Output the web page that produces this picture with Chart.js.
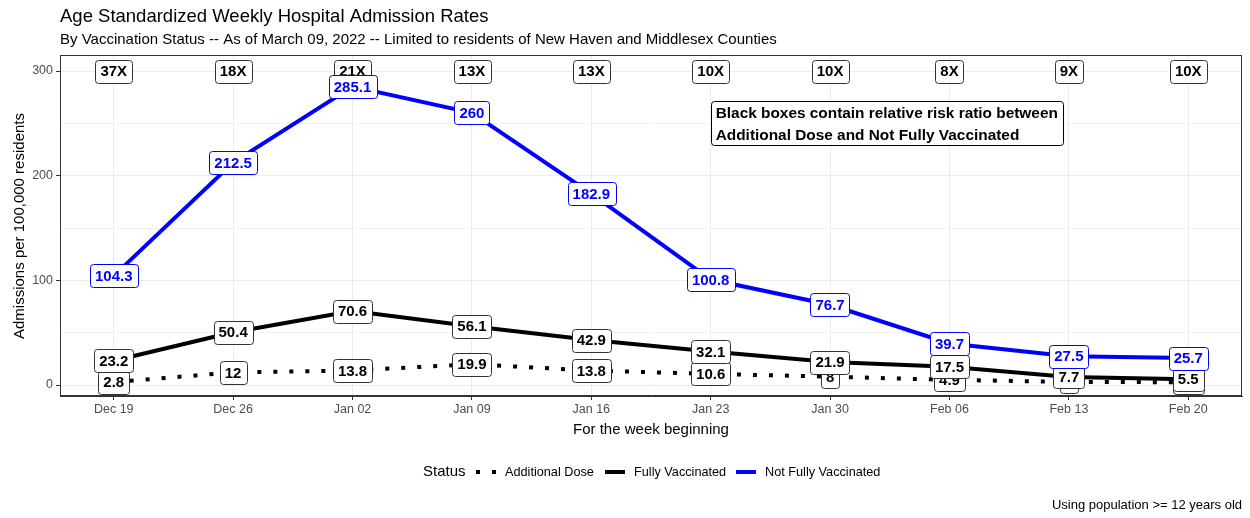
<!DOCTYPE html>
<html>
<head>
<meta charset="utf-8">
<script src="https://cdn.jsdelivr.net/npm/chart.js@4.4.1/dist/chart.umd.min.js"></script>
<style>
    body { margin: 0; background: #fff; }
    #wrap { width: 1250px; height: 518px; position: relative; }
</style>
</head>
<body>
<div id="wrap"><canvas id="admChart"></canvas></div>
<script>
var weeks = ["Dec 19", "Dec 26", "Jan 02", "Jan 09", "Jan 16", "Jan 23", "Jan 30", "Feb 06", "Feb 13", "Feb 20"];
var notFullyVaccinated = [104.3, 212.5, 285.1, 260, 182.9, 100.8, 76.7, 39.7, 27.5, 25.7];
var fullyVaccinated = [23.2, 50.4, 70.6, 56.1, 42.9, 32.1, 21.9, 17.5, 7.7, 5.5];
var additionalDose = [2.8, 12, 13.8, 19.9, 13.8, 10.6, 8, 4.9, 3.0, 2.6];
var riskRatios = ["37X", "18X", "21X", "13X", "13X", "10X", "10X", "8X", "9X", "10X"];
var ratioRow = 300;
var yTicks = [0, 50, 100, 150, 200, 250, 300];

var FONT = "'Liberation Sans', Arial, sans-serif";

function toPoints(values) {
    return values.map(function (v, i) { return { x: i, y: v }; });
}

function labelBox(ctx, text, x, y, textColor, borderColor) {
    ctx.font = "bold 15px " + FONT;
    var w = ctx.measureText(text).width + 10;
    var h = 23;
    ctx.beginPath();
    ctx.roundRect(Math.round(x - w / 2) + 0.5, Math.round(y - h / 2) + 0.5, Math.round(w), h, 3);
    ctx.fillStyle = "#fff";
    ctx.fill();
    ctx.lineWidth = 1;
    ctx.strokeStyle = borderColor;
    ctx.stroke();
    ctx.fillStyle = textColor;
    ctx.textAlign = "center";
    ctx.textBaseline = "middle";
    ctx.fillText(text, x, y + 1);
}

var decorPlugin = {
    id: 'decor',
    afterDatasetsDraw: function (chart) {
        var ctx = chart.ctx;
        var xs = chart.scales.x;
        var ys = chart.scales.y;
        var area = chart.chartArea;
        ctx.save();

        // ratio boxes along the top
        riskRatios.forEach(function (r, i) {
            labelBox(ctx, r, xs.getPixelForValue(i), ys.getPixelForValue(ratioRow), "#000", "#333");
        });
        additionalDose.forEach(function (v, i) {
            labelBox(ctx, String(v), xs.getPixelForValue(i), ys.getPixelForValue(v), "#000", "#333");
        });
        fullyVaccinated.forEach(function (v, i) {
            labelBox(ctx, String(v), xs.getPixelForValue(i), ys.getPixelForValue(v), "#000", "#333");
        });
        notFullyVaccinated.forEach(function (v, i) {
            labelBox(ctx, String(v), xs.getPixelForValue(i), ys.getPixelForValue(v), "#0000ff", "#0000ff");
        });

        // note box, left edge at Jan 23, centred on 250
        var nx = xs.getPixelForValue(5);
        var ny = ys.getPixelForValue(250);
        var lines = ["Black boxes contain relative risk ratio between", "Additional Dose and Not Fully Vaccinated"];
        ctx.font = "bold 15.4px " + FONT;
        var nw = Math.max(ctx.measureText(lines[0]).width, ctx.measureText(lines[1]).width) + 10;
        ctx.beginPath();
        ctx.roundRect(Math.round(nx) + 0.5, Math.round(ny - 22) + 0.5, Math.round(nw), 44, 3);
        ctx.fillStyle = "#fff";
        ctx.fill();
        ctx.strokeStyle = "#000";
        ctx.lineWidth = 1;
        ctx.stroke();
        ctx.fillStyle = "#000";
        ctx.textAlign = "left";
        ctx.textBaseline = "middle";
        ctx.fillText(lines[0], nx + 5, ny - 10);
        ctx.fillText(lines[1], nx + 5, ny + 12);

        // panel border
        ctx.strokeStyle = "#333";
        ctx.lineWidth = 1;
        ctx.strokeRect(Math.round(area.left) + 0.5, Math.round(area.top) + 0.5, Math.round(area.right - area.left) - 1, Math.round(area.bottom - area.top) - 1);
        ctx.restore();
    },
    afterDraw: function (chart) {
        var ctx = chart.ctx;
        var area = chart.chartArea;
        ctx.save();
        ctx.fillStyle = "#000";
        ctx.textBaseline = "alphabetic";
        ctx.textAlign = "left";
        ctx.font = "18.5px " + FONT;
        ctx.fillText("Age Standardized Weekly Hospital Admission Rates", 60, 22);
        ctx.font = "15px " + FONT;
        ctx.fillText("By Vaccination Status -- As of March 09, 2022 -- Limited to residents of New Haven and Middlesex Counties", 60, 44);

        // axis titles
        ctx.textAlign = "center";
        ctx.textBaseline = "middle";
        ctx.font = "15px " + FONT;
        ctx.fillText("For the week beginning", (area.left + area.right) / 2, 430);
        ctx.save();
        ctx.translate(20, 226);
        ctx.rotate(-Math.PI / 2);
        ctx.fillText("Admissions per 100,000 residents", 0, 0);
        ctx.restore();

        // legend
        var ly = 472;
        ctx.textAlign = "left";
        ctx.font = "15px " + FONT;
        ctx.fillText("Status", 423, ly);
        ctx.font = "12.7px " + FONT;
        ctx.fillRect(476, ly - 2, 4, 4);
        ctx.fillRect(492, ly - 2, 4, 4);
        ctx.fillText("Additional Dose", 505, ly);
        ctx.fillRect(605, ly - 2, 20, 4);
        ctx.fillText("Fully Vaccinated", 634, ly);
        ctx.fillStyle = "#0000ff";
        ctx.fillRect(736, ly - 2, 20, 4);
        ctx.fillStyle = "#000";
        ctx.fillText("Not Fully Vaccinated", 765, ly);

        // caption
        ctx.textAlign = "right";
        ctx.font = "13px " + FONT;
        ctx.fillText("Using population >= 12 years old", 1242, 505);
        ctx.restore();
    }
};

document.addEventListener('DOMContentLoaded', function () {
    var admChart = new Chart(document.getElementById("admChart"), {
        type: 'line',
        data: {
            datasets: [{
                label: "Additional Dose",
                data: toPoints(additionalDose),
                borderColor: "#000",
                borderWidth: 4,
                borderDash: [4, 12],
                borderCapStyle: 'butt'
            }, {
                label: "Fully Vaccinated",
                data: toPoints(fullyVaccinated),
                borderColor: "#000",
                borderWidth: 4
            }, {
                label: "Not Fully Vaccinated",
                data: toPoints(notFullyVaccinated),
                borderColor: "#0000ff",
                borderWidth: 4
            }]
        },
        options: {
            responsive: true,
            maintainAspectRatio: false,
            animation: false,
            devicePixelRatio: 1,
            elements: { point: { radius: 0 }, line: { tension: 0 } },
            layout: { padding: { top: 55, right: 8, left: 0, bottom: 0 } },
            plugins: {
                legend: { display: false },
                tooltip: { enabled: false },
                title: { display: false }
            },
            scales: {
                x: {
                    type: 'linear',
                    min: -0.45,
                    max: 9.45,
                    afterBuildTicks: function (scale) {
                        scale.ticks = weeks.map(function (w, i) { return { value: i }; });
                    },
                    afterFit: function (scale) { scale.height = 122; },
                    ticks: {
                        autoSkip: false,
                        maxRotation: 0,
                        padding: 2,
                        color: "#4d4d4d",
                        font: { family: FONT, size: 12.5 },
                        callback: function (v) { return weeks[v]; }
                    },
                    grid: {
                        color: "#ebebeb",
                        lineWidth: 1,
                        tickLength: 4,
                        tickColor: "#333"
                    },
                    border: { color: "#333" }
                },
                y: {
                    min: -10.5,
                    max: 315.3,
                    afterBuildTicks: function (scale) {
                        scale.ticks = yTicks.map(function (v) { return { value: v }; });
                    },
                    afterFit: function (scale) { scale.width = 60; },
                    ticks: {
                        padding: 3,
                        color: "#4d4d4d",
                        font: { family: FONT, size: 12.5 },
                        callback: function (v) { return v % 100 === 0 ? String(v) : ""; }
                    },
                    grid: {
                        color: function (c) { return c.tick && c.tick.value % 100 === 0 ? "#ebebeb" : "#f3f3f3"; },
                        lineWidth: 1,
                        tickLength: 4,
                        tickColor: function (c) { return c.tick && c.tick.value % 100 === 0 ? "#333" : "rgba(0,0,0,0)"; }
                    },
                    border: { color: "#333" }
                }
            }
        },
        plugins: [decorPlugin]
    });
});
</script>
</body>
</html>
